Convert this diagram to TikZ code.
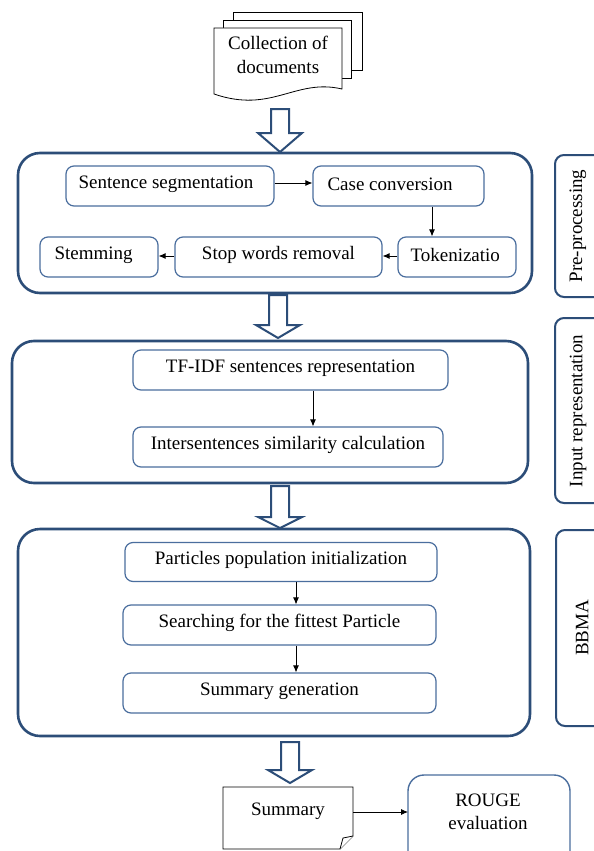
\documentclass[tikz,border=0pt]{standalone}
\usepackage{fontspec}
\setmainfont{Liberation Serif}
\usetikzlibrary{arrows.meta}
\definecolor{outerblue}{HTML}{2C4D78}
\definecolor{innerblue}{HTML}{4A6E9E}
\tikzset{
  container/.style={draw=outerblue, line width=2.6pt, rounded corners=22pt, fill=white},
  sidebox/.style={draw=outerblue, line width=2pt, rounded corners=9pt, fill=white},
  stepbox/.style={draw=innerblue, line width=1.2pt, rounded corners=8pt, fill=white, inner sep=0pt},
  txt/.style={font=\fontsize{19}{23.5}\selectfont, text=black, align=center},
  flow/.style={-{Latex[length=7pt,width=6pt]}, line width=0.8pt, black},
  blockarrow/.style={draw=outerblue, line width=2pt, fill=white, line join=miter},
  page/.style={draw=black, line width=0.8pt, fill=white}
}
\newcommand{\blockarr}[4]{% center x, top, head start, tip
  \draw[blockarrow] (#1-9,#2) -- (#1+9,#2) -- (#1+9,#3) -- (#1+22,#3) -- (#1,#4) -- (#1-22,#3) -- (#1-9,#3) -- cycle;}
\begin{document}
\begin{tikzpicture}[x=1pt,y=-1pt]
\useasboundingbox (0,0) rectangle (594,851);
\clip (0,0) rectangle (594,851);
\fill[white] (0,0) rectangle (594,851);

% document stack
\draw[page] (233,12) rectangle (362,70);
\draw[page] (223,20) rectangle (351,78);
\draw[page] (214,28) -- (342,28) -- (342,89) .. controls (295,78) and (272,114) .. (214,94) -- cycle;
\node[txt] (docs) at (278,55) {Collection of\\documents};

% block arrow 1
\blockarr{280}{109}{133}{152}

% Pre-processing container
\draw[container] (18,153) rectangle (532,293);
\node[stepbox, minimum width=208pt, minimum height=40pt] (seg) at (170,186) {};
\node[txt] at (166,184) {Sentence segmentation};
\node[stepbox, minimum width=171pt, minimum height=40pt] (case) at (398.5,186) {};
\node[txt, anchor=west] at (324,184) {Case conversion};
\node[stepbox, minimum width=118pt, minimum height=40pt] (tok) at (457,257) {};
\node[txt, anchor=west] at (407,255) {Tokenizatio};
\node[stepbox, minimum width=207pt, minimum height=40pt] (stop) at (278.5,257) {};
\node[txt] at (278.5,255) {Stop words removal};
\node[stepbox, minimum width=118pt, minimum height=40pt] (stem) at (99,257) {};
\node[txt, anchor=west] at (51,255) {Stemming};
\draw[flow] (seg.east |- 0,183) -- (case.west |- 0,183);
\draw[flow] (case.south -| 432,0) -- (tok.north -| 432,0);
\draw[flow] (tok.west |- 0,256) -- (stop.east |- 0,256);
\draw[flow] (stop.west |- 0,256) -- (stem.east |- 0,256);

% block arrow 2
\blockarr{278}{295}{325}{338}

% Input representation container
\draw[container] (12,341) rectangle (528,483);
\node[stepbox, minimum width=315pt, minimum height=40pt] (tfidf) at (290.5,370) {};
\node[txt] at (290.5,368) {TF-IDF sentences representation};
\node[stepbox, minimum width=310pt, minimum height=40pt] (inter) at (288,447) {};
\node[txt] at (288,445) {Intersentences similarity calculation};
\draw[flow] (tfidf.south -| 313,0) -- (inter.north -| 313,0);

% block arrow 3
\blockarr{280}{486}{517}{528}

% BBMA container
\draw[container] (18,529) rectangle (530,736);
\node[stepbox, minimum width=312pt, minimum height=39pt] (part) at (281,562) {};
\node[txt] at (281,560) {Particles population initialization};
\node[stepbox, minimum width=313pt, minimum height=40pt] (search) at (279.5,625) {};
\node[txt] at (279.5,623) {Searching for the fittest Particle};
\node[stepbox, minimum width=313pt, minimum height=40pt] (sumgen) at (279.5,693) {};
\node[txt] at (279.5,691) {Summary generation};
\draw[flow] (part.south -| 296,0) -- (search.north -| 296,0);
\draw[flow] (search.south -| 296,0) -- (sumgen.north -| 296,0);

% side labels
\draw[sidebox] (555,155) rectangle (612,297);
\node[txt, rotate=90] (lpre) at (578,226) {Pre-processing};
\draw[sidebox] (555,318) rectangle (612,503);
\node[txt, rotate=90] (linp) at (578,411) {Input representation};
\draw[sidebox] (556,530) rectangle (612,726);
\node[txt, rotate=90] (lbbma) at (582,628) {BBMA};

% block arrow 4
\blockarr{290}{742}{770}{783}

% Summary document (folded corner)
\draw[page] (223,787) -- (353,787) -- (353,836) -- (340,849) -- (223,849) -- cycle;
\draw[page] (353,836) -- (343,838) -- (340,849);
\node[txt] (summ) at (288,811) {Summary};
\coordinate (summE) at (353,812);

% ROUGE box
\draw[draw=innerblue, line width=1.4pt, rounded corners=16pt, fill=white] (408,775) rectangle (570,870);
\node[txt] (rouge) at (488,812) {ROUGE\\evaluation};
\coordinate (rougeW) at (408,812);
\draw[flow] (summE) -- (rougeW);
\end{tikzpicture}
\end{document}
